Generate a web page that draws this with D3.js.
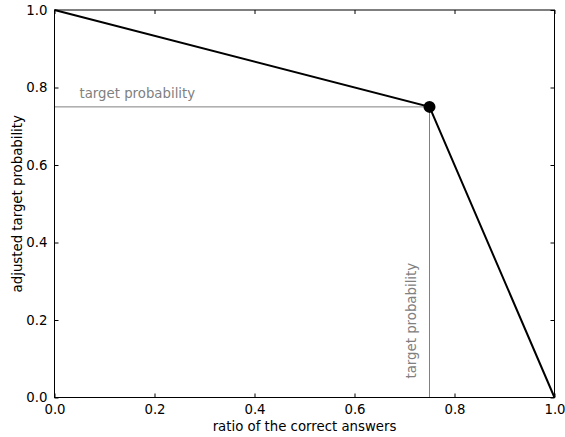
<!DOCTYPE html>
<html>
<head>
<meta charset="utf-8">
<script src="https://cdn.jsdelivr.net/npm/d3@7"></script>
<style>
  body { margin: 0; background: #fff; }
  text { font-family: "DejaVu Sans", sans-serif; }
</style>
</head>
<body>
<svg id="chart" width="565" height="437"></svg>
<script>
const curveX = [0, 0.75, 1];
const curveY = [1, 0.75, 0];
const target = 0.75;
const ticks = [0, 0.2, 0.4, 0.6, 0.8, 1.0];
const guideLabel = 'target probability';

const svg = d3.select('#chart');
const margin = { left: 54.5, right: 10.5, top: 10, bottom: 39.5 };
const W = 565, H = 437;
const fs = 13.3;

const x = d3.scaleLinear().domain([0, 1]).range([margin.left, W - margin.right]);
const y = d3.scaleLinear().domain([0, 1]).range([H - margin.bottom, margin.top]);

// guide lines
svg.append('line')
  .attr('x1', x(0)).attr('x2', x(target))
  .attr('y1', y(target)).attr('y2', y(target))
  .attr('stroke', '#808080').attr('stroke-width', 1);
svg.append('line')
  .attr('x1', x(target)).attr('x2', x(target))
  .attr('y1', y(0)).attr('y2', y(target))
  .attr('stroke', '#808080').attr('stroke-width', 1);

svg.append('text')
  .attr('x', x(0.05)).attr('y', y(target) - 9)
  .attr('font-size', fs).attr('fill', '#808080')
  .text(guideLabel);
svg.append('text')
  .attr('transform', `translate(${x(target) - 13.5},${y(0) - 19}) rotate(-90)`)
  .attr('font-size', fs).attr('fill', '#808080')
  .text(guideLabel);

// main curve
const line = d3.line().x((d) => x(d[0])).y((d) => y(d[1]));
svg.append('path')
  .datum(d3.zip(curveX, curveY))
  .attr('d', line)
  .attr('fill', 'none').attr('stroke', '#000').attr('stroke-width', 2);

svg.append('circle')
  .attr('cx', x(target)).attr('cy', y(target)).attr('r', 6)
  .attr('fill', '#000');

// axes, ticks inside on all sides
const fmt = d3.format('.1f');
const addAxis = (axis, tx, ty, labels) => {
  const g = svg.append('g').attr('transform', `translate(${tx},${ty})`)
    .call(axis.tickValues(ticks).tickSizeOuter(0).tickSizeInner(-4).tickPadding(7)
      .tickFormat(labels ? fmt : ''));
  g.select('.domain').remove();
  g.selectAll('text').attr('font-size', fs).attr('fill', '#000').attr('font-family', 'DejaVu Sans');
  g.selectAll('line').attr('stroke', '#000');
  return g;
};
addAxis(d3.axisBottom(x), 0, y(0), true);
addAxis(d3.axisTop(x), 0, y(1), false);
addAxis(d3.axisLeft(y), x(0), 0, true);
addAxis(d3.axisRight(y), x(1), 0, false);

svg.append('rect')
  .attr('x', x(0)).attr('y', y(1))
  .attr('width', x(1) - x(0)).attr('height', y(0) - y(1))
  .attr('fill', 'none').attr('stroke', '#000').attr('stroke-width', 1);

svg.append('text')
  .attr('x', (x(0) + x(1)) / 2).attr('y', 431)
  .attr('text-anchor', 'middle').attr('font-size', fs)
  .text('ratio of the correct answers');
svg.append('text')
  .attr('transform', `translate(22,${(y(0) + y(1)) / 2}) rotate(-90)`)
  .attr('text-anchor', 'middle').attr('font-size', fs)
  .text('adjusted target probability');
</script>
</body>
</html>
